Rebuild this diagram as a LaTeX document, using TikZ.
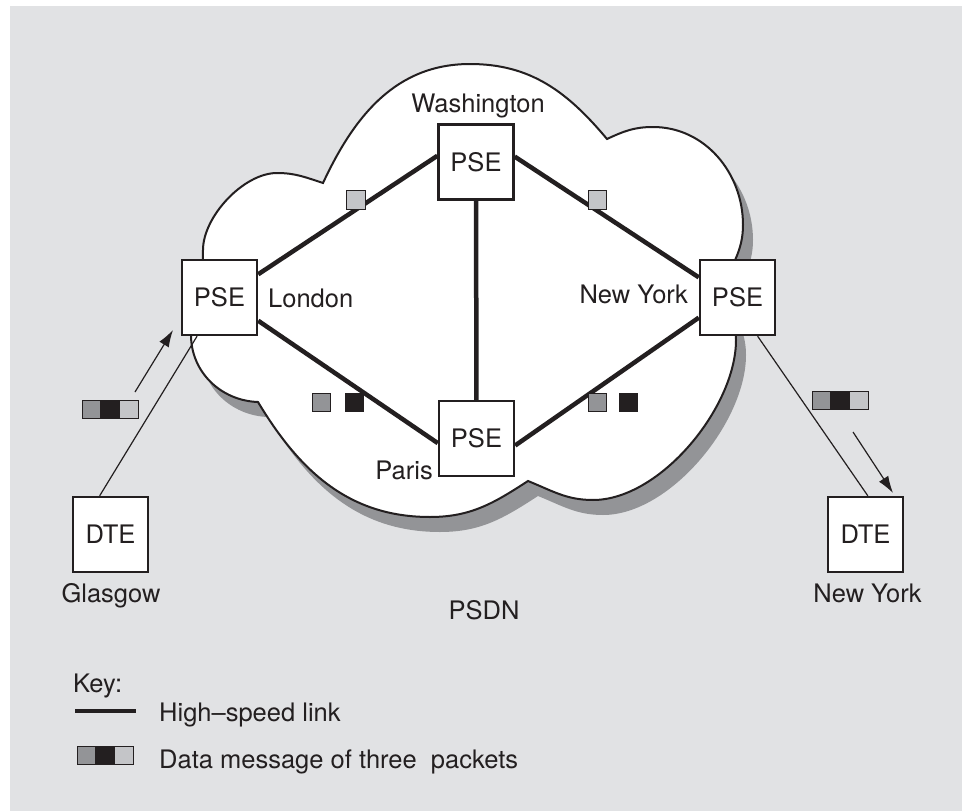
\documentclass[tikz,border=0pt]{standalone}
\usepackage{fontspec}
\setmainfont{TeX Gyre Heros}
\usetikzlibrary{calc,arrows.meta}
\definecolor{bg}{HTML}{E1E2E4}
\definecolor{ink}{HTML}{231F20}
\definecolor{midg}{HTML}{939497}
\definecolor{lightg}{HTML}{C4C5C8}
\tikzset{
  cloudshape/.pic={
    \path[pic actions] (323,-183) to[out=65,in=180] (470,-64) to[out=0,in=130] (607,-139)
      to[out=25,in=180] (653,-127) to[out=0,in=90] (743,-225) to[out=-90,in=70] (722,-290)
      to[out=-70,in=90] (736,-340) to[out=-90,in=0,looseness=0.8] (593,-500)
      to[out=180,in=-22] (528,-481) to[out=213,in=0] (430,-517) to[out=180,in=-59] (258,-402)
      to[out=178,in=-90] (191,-335) to[out=90,in=-110] (206,-290) to[out=110,in=-90] (203,-250)
      to[out=90,in=180,looseness=0.8] (277,-173) to[out=0,in=162] (323,-183) -- cycle;
  }
}
\begin{document}
\begin{tikzpicture}[x=1pt,y=1pt,
  every node/.style={font=\fontsize{25.5}{30}\selectfont, text=ink},
  box/.style={draw=ink, line width=2.4pt, fill=white, minimum size=75pt, inner sep=0pt},
  link/.style={draw=ink, line width=4.5pt},
  conn/.style={draw=ink, line width=1.2pt},
  pkt/.style={draw=ink, line width=0.9pt, minimum size=18.7pt, inner sep=0pt},
  lbl/.style={anchor=base, inner sep=0pt},
  arr/.style={-{Latex[length=17pt,width=11pt]}}]
\useasboundingbox (0,0) rectangle (962,-811);
\fill[bg] (10,-6) rectangle (962,-811);
% cloud with shadow
\pic[fill=midg] at (10,-15) {cloudshape};
\pic[fill=white, draw=ink, line width=2pt] at (0,0) {cloudshape};
% switching exchanges and terminals
\node[box] (wash) at (476,-162) {PSE};
\node[box] (lon) at (219.5,-297.5) {PSE};
\node[box] (ny) at (737.5,-297.5) {PSE};
\node[box] (par) at (476.5,-438.5) {PSE};
\node[box] (dteg) at (110.5,-534.5) {DTE};
\node[box] (dten) at (865.5,-534.5) {DTE};
% high-speed links
\draw[link] ($(lon.north east)!0.2!(lon.south east)$) -- ($(wash.north west)!0.42!(wash.south west)$);
\draw[link] ($(wash.north east)!0.43!(wash.south east)$) -- ($(ny.north west)!0.24!(ny.south west)$);
\draw[link] ($(lon.north east)!0.8!(lon.south east)$) -- ($(par.north west)!0.56!(par.south west)$);
\draw[link] ($(par.north east)!0.59!(par.south east)$) -- ($(ny.north west)!0.76!(ny.south west)$);
\draw[link] (wash) -- (par);
% access lines
\draw[conn] ($(dteg.north west)!0.36!(dteg.north east)$) -- ($(lon.south west)!0.21!(lon.south east)$);
\draw[conn] ($(ny.south west)!0.76!(ny.south east)$) -- ($(dten.north west)!0.53!(dten.north east)$);
\coordinate (a1s) at (135,-392);
\coordinate (a1e) at (173,-330);
\coordinate (a2s) at (853,-432);
\coordinate (a2e) at (893,-493);
\draw[conn, arr] (a1s) -- (a1e);
\draw[conn, arr] (a2s) -- (a2e);
% packets on links
\node[pkt, fill=lightg] (p1) at (356,-200) {};
\node[pkt, fill=lightg] (p2) at (597.5,-200) {};
\node[pkt, fill=midg] (p3) at (321.5,-402.5) {};
\node[pkt, fill=ink] (p4) at (354.5,-402.5) {};
\node[pkt, fill=midg] (p5) at (597.5,-402.5) {};
\node[pkt, fill=ink] (p6) at (628.5,-402.5) {};
% three-packet messages
\node[pkt, fill=midg] (m1a) at (91.3,-409.5) {};
\node[pkt, fill=ink] (m1b) at (110,-409.5) {};
\node[pkt, fill=lightg] (m1c) at (128.7,-409.5) {};
\node[pkt, fill=midg] (m2a) at (821.3,-400.5) {};
\node[pkt, fill=ink] (m2b) at (840,-400.5) {};
\node[pkt, fill=lightg] (m2c) at (858.7,-400.5) {};
% labels
\node[lbl] (lwash) at (478,-112) {Washington};
\node[lbl, anchor=base west] (llon) at (268,-307) {London};
\node[lbl, anchor=base east] (lny) at (688,-303) {New York};
\node[lbl, anchor=base east] (lpar) at (433,-479) {Paris};
\node[lbl] (lgla) at (111,-602) {Glasgow};
\node[lbl] (lnyd) at (867.5,-602) {New York};
\node[lbl] (lpsdn) at (484,-619) {PSDN};
% key
\node[lbl, anchor=base west] (key) at (73,-692) {Key:};
\coordinate (k1) at (75,-711);
\coordinate (k2) at (136,-711);
\draw[link] (k1) -- (k2);
\node[lbl, anchor=base west] (klink) at (159,-721) {High–speed link};
\node[pkt, fill=midg] (k3a) at (86.3,-755.5) {};
\node[pkt, fill=ink] (k3b) at (105,-755.5) {};
\node[pkt, fill=lightg] (k3c) at (123.7,-755.5) {};
\node[lbl, anchor=base west] (kmsg) at (159,-768) {Data message of three\ \ packets};
\end{tikzpicture}
\end{document}
